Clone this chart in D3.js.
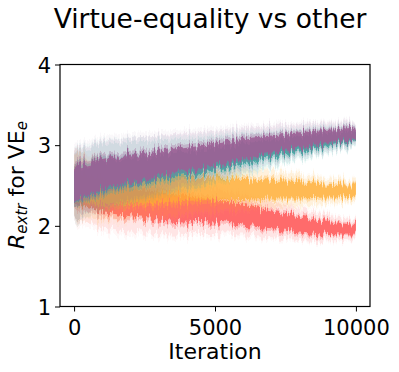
<!DOCTYPE html>
<html>
<head>
<meta charset="utf-8">
<script src="https://cdn.jsdelivr.net/npm/d3@7"></script>
<style>
  body { margin: 0; background: #fff; }
  svg { display: block; font-family: "DejaVu Sans", sans-serif; }
</style>
</head>
<body>
<div id="chart"></div>
<script>
const iterations = [0, 1000, 2000, 3000, 4000, 5000, 6000, 7000, 8000, 9000, 10000];

const redMean   = [2.50, 2.37, 2.30, 2.25, 2.21, 2.18, 2.13, 2.08, 2.03, 1.98, 1.95];
const redCore   = [0.22, 0.20, 0.18, 0.17, 0.16, 0.14, 0.13, 0.11, 0.10, 0.08, 0.06];
const redHalo   = [0.42, 0.40, 0.37, 0.34, 0.31, 0.28, 0.25, 0.22, 0.19, 0.16, 0.12];

const orangeMean = [2.50, 2.45, 2.44, 2.45, 2.46, 2.46, 2.45, 2.45, 2.44, 2.43, 2.43];
const orangeCore = [0.20, 0.18, 0.17, 0.16, 0.15, 0.14, 0.13, 0.11, 0.10, 0.08, 0.07];
const orangeHalo = [0.40, 0.38, 0.35, 0.33, 0.30, 0.28, 0.25, 0.22, 0.19, 0.16, 0.13];

const tealMean  = [2.50, 2.61, 2.67, 2.72, 2.77, 2.83, 2.89, 2.95, 3.01, 3.07, 3.12];
const tealCore  = [0.21, 0.19, 0.17, 0.16, 0.15, 0.14, 0.13, 0.11, 0.10, 0.08, 0.06];
const tealHalo  = [0.42, 0.40, 0.37, 0.34, 0.31, 0.28, 0.25, 0.22, 0.19, 0.16, 0.12];

const purpleMean = [2.52, 2.64, 2.71, 2.77, 2.83, 2.89, 2.95, 3.01, 3.06, 3.11, 3.15];
const purpleCore = [0.22, 0.19, 0.17, 0.16, 0.15, 0.14, 0.13, 0.11, 0.10, 0.08, 0.07];
const purpleHalo = [0.44, 0.41, 0.38, 0.35, 0.32, 0.29, 0.26, 0.23, 0.20, 0.17, 0.13];

const xTicks = [0, 5000, 10000];
const yTicks = [1, 2, 3, 4];

// drawn in this order, last on top
const series = [
  { name: 'red', color: '#ff6262', alpha: 0.9, mean: redMean, core: redCore, halo: redHalo },
  { name: 'orange', color: '#ffad33', alpha: 0.72, mean: orangeMean, core: orangeCore, halo: orangeHalo },
  { name: 'teal', color: '#2fb5a4', alpha: 0.9, mean: tealMean, core: tealCore, halo: tealHalo },
  { name: 'purple', color: '#9d5f95', alpha: 0.88, mean: purpleMean, core: purpleCore, halo: purpleHalo },
];

const width = 399;
const height = 372;
const margin = { top: 64.5, right: 29, bottom: 65.5, left: 60 };

const svg = d3.select('#chart')
  .append('svg')
  .attr('width', width)
  .attr('height', height);

const xScale = d3.scaleLinear()
  .domain([-500, 10500])
  .range([margin.left, width - margin.right]);

const yScale = d3.scaleLinear()
  .domain([1, 4])
  .range([height - margin.bottom, margin.top]);

// streaky texture for the noisy bands (vertical jitter only)
const defs = svg.append('defs');
const filt = defs.append('filter')
  .attr('id', 'streaks')
  .attr('filterUnits', 'userSpaceOnUse')
  .attr('x', 0).attr('y', 0).attr('width', width).attr('height', height);
filt.append('feTurbulence')
  .attr('type', 'fractalNoise')
  .attr('baseFrequency', '0.55 0.015')
  .attr('numOctaves', 2)
  .attr('seed', 3)
  .attr('result', 'noise');
filt.append('feColorMatrix')
  .attr('in', 'noise')
  .attr('type', 'matrix')
  .attr('values', '0 0 0 0 0.5  0 1 0 0 0  0 0 1 0 0  0 0 0 0 1')
  .attr('result', 'shift');
filt.append('feDisplacementMap')
  .attr('in', 'SourceGraphic')
  .attr('in2', 'shift')
  .attr('scale', 17)
  .attr('xChannelSelector', 'R')
  .attr('yChannelSelector', 'G');

const plot = svg.append('g').attr('class', 'bands');

function band(s, widthArr, k) {
  return d3.area()
    .x((d, i) => xScale(iterations[i]))
    .y0((d, i) => yScale(s.mean[i] - widthArr[i] * k))
    .y1((d, i) => yScale(s.mean[i] + widthArr[i] * k))
    .curve(d3.curveMonotoneX)(iterations);
}

series.forEach(s => {
  const g = plot.append('g').attr('filter', 'url(#streaks)');
  g.append('path').attr('d', band(s, s.halo, 1.15)).attr('fill', s.color).attr('fill-opacity', 0.05);
  g.append('path').attr('d', band(s, s.halo, 1)).attr('fill', s.color).attr('fill-opacity', 0.12);
  g.append('path').attr('d', band(s, s.core, 1.3)).attr('fill', s.color).attr('fill-opacity', 0.3);
  g.append('path').attr('d', band(s, s.core, 1)).attr('fill', s.color).attr('fill-opacity', s.alpha);
});

// axes
const xAxis = d3.axisBottom(xScale).tickValues(xTicks).tickFormat(d3.format('d')).tickSize(5).tickPadding(4);
const yAxis = d3.axisLeft(yScale).tickValues(yTicks).tickFormat(d3.format('d')).tickSize(5).tickPadding(4);

const gx = svg.append('g')
  .attr('transform', `translate(0, ${height - margin.bottom})`)
  .call(xAxis);
const gy = svg.append('g')
  .attr('transform', `translate(${margin.left}, 0)`)
  .call(yAxis);

[gx, gy].forEach(g => {
  g.select('.domain').remove();
  g.selectAll('line').attr('stroke', '#000').attr('stroke-width', 1);
  g.selectAll('text').attr('fill', '#000').style('font-size', '21px')
    .style('font-family', '"DejaVu Sans", sans-serif');
});
gx.selectAll('text').attr('dy', '0.95em');
gy.selectAll('text').attr('dy', '0.36em');

// frame
svg.append('rect')
  .attr('x', margin.left)
  .attr('y', margin.top)
  .attr('width', width - margin.left - margin.right)
  .attr('height', height - margin.top - margin.bottom)
  .attr('fill', 'none')
  .attr('stroke', '#000')
  .attr('stroke-width', 1.2);

// title
svg.append('text')
  .attr('x', 210)
  .attr('y', 28)
  .attr('text-anchor', 'middle')
  .style('font-size', '26.5px')
  .text('Virtue-equality vs other');

// x label
svg.append('text')
  .attr('x', 215)
  .attr('y', 359)
  .attr('text-anchor', 'middle')
  .style('font-size', '22px')
  .text('Iteration');

// y label with subscripts
const yl = svg.append('text')
  .attr('transform', 'translate(24, 185) rotate(-90)')
  .attr('text-anchor', 'middle')
  .style('font-size', '22px');
yl.append('tspan').style('font-style', 'italic').text('R');
yl.append('tspan').style('font-style', 'italic').style('font-size', '15px').attr('dy', 3).text('extr');
yl.append('tspan').attr('dy', -3).text(' for VE');
yl.append('tspan').style('font-style', 'italic').style('font-size', '15px').attr('dy', 3).text('e');
</script>
</body>
</html>
